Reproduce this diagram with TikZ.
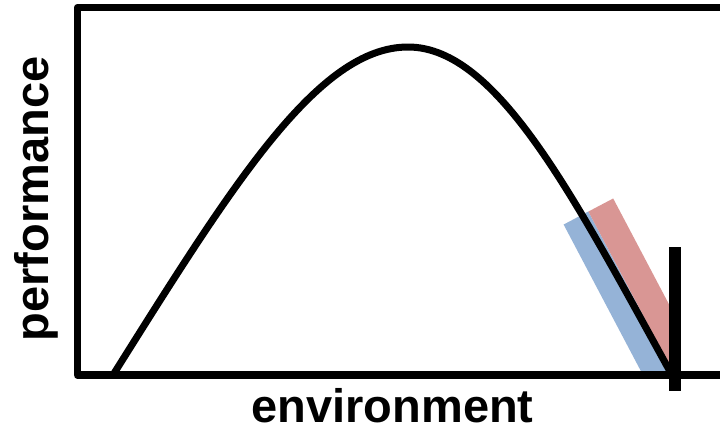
\documentclass[tikz,border=0pt]{standalone}
\usepackage{fontspec}
\setmainfont{Liberation Sans}
\usetikzlibrary{positioning}
\definecolor{bandblue}{HTML}{95B3D7}
\definecolor{bandred}{HTML}{D99694}
\tikzset{
  frameline/.style = {line width=7.5pt, line join=round},
  curveline/.style = {line width=7pt},
  band/.style      = {line width=28pt},
  limitbar/.style  = {line width=12pt},
  axlab/.style     = {font=\fontsize{47}{50}\selectfont\bfseries, inner sep=0pt},
}

\begin{document}
\begin{tikzpicture}[x=1pt, y=-1pt]
\useasboundingbox (0,0) rectangle (720,429);

% Frame corners (right edge sits just past the page)
\coordinate (tl) at (77.5,7.5);
\coordinate (br) at (723.5,375);

% Shaded bands either side of the falling flank
\begin{scope}
  \clip (tl) rectangle (675,375);
  \draw [band, draw=bandblue] (576,218) -- (692.5,439);
  \draw [band, draw=bandred]  (600.8,205) -- (717.3,426);
\end{scope}

% Performance curve
\coordinate (start) at (113,375);
\coordinate (peak)  at (408,47);
\coordinate (stop)  at (672,375);
\draw [curveline] (start) .. controls (233,184) and (318,47) .. (peak)
                          .. controls (498,47) and (575,200) .. (stop);

% Axes box
\draw [frameline] (tl) rectangle (br);

% Limit marker
\coordinate (bartop) at (675,247);
\coordinate (barbot) at (675,391);
\draw [limitbar] (bartop) -- (barbot);

% Axis labels
\node (xlab) [axlab, anchor=base] at (392.5,422) {environment};
\node (ylab) [axlab, anchor=base, rotate=90] at (48,199) {performance};

\end{tikzpicture}
\end{document}
